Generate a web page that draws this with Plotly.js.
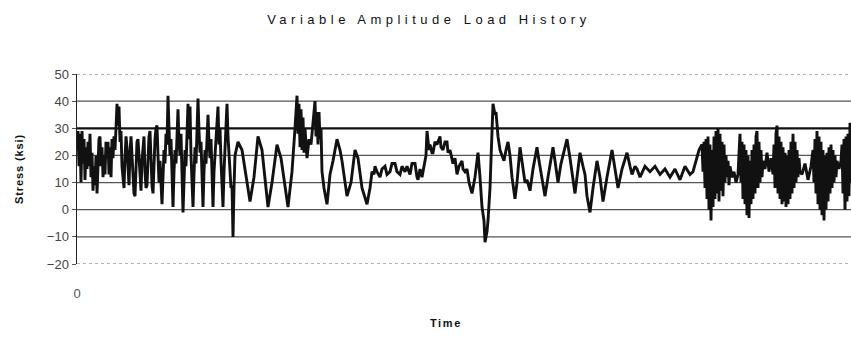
<!DOCTYPE html>
<html>
<head>
<meta charset="utf-8">
<script src="https://cdn.plot.ly/plotly-3.0.1.min.js"></script>
<style>
  html, body { margin: 0; padding: 0; background: #fff; }
  #chart { width: 851px; height: 337px; }
  .gtitle { letter-spacing: 4.5px; }
  .annotation-text { letter-spacing: 1.6px; }
  .ytitle { letter-spacing: 0.9px; }
</style>
</head>
<body>
<div id="chart"></div>
<script>
// Time (arbitrary units, left edge = 0) and stress (ksi)
const time = [
  0,1,2,3,4,5,6,7,8,9,10,11,12,13,14,15,16,17,18,19,20,21,22,23,24,25,26,27,28,29,
  30,31,32,33,34,35,36,37,38,39,40,41,42,43,44,45,46,47,48,49,50,51,52,53,54,55,56,57,58,59,
  60,61,62,63,64,65,66,67,68,69,70,71,72,73,74,75,76,77,78,79,80,81,82,83,84,85,86,87,88,89,
  90,91,92,93,94,95,96,97,98,99,100,101,102,103,104,105,106,107,108,109,110,111,112,113,114,115,116,117,118,119,
  120,121,122,123,124,125,126,127,128,129,130,131,132,133,134,135,136,137,138,139,140,141,142,143,144,145,146,147,148,149,
  150,151,152,153,154,155,156,157,158,
  161,165,173,177,181,185,191,195,200,204,211,215,218,220,221,222,223,224,225,226,227,228,230,232,234,236,238,239,240,241,242,243,244,245,247,
  250,252,253,256,260,263,265,270,274,278,281,285,290,293,295,297,298,300,303,305,308,310,313,315,318,320,323,325,328,330,333,335,338,340,341,343,345,347,349,
  350,352,353,355,356,358,360,363,364,366,368,370,371,373,376,378,380,382,385,386,388,390,392,395,398,401,403,405,407,408,410,411,413,414,416,418,419,421,423,425,427,429,431,433,435,438,440,443,445,448,
  450,453,456,460,462,465,468,471,476,478,481,484,490,493,495,498,500,503,506,508,510,513,516,520,523,526,530,535,538,541,545,550,553,555,558,560,563,568,573,578,583,588,593,598,603,608,613,616,619,622,625,
  626,627,628,629,630,631,632,633,634,635,636,637,638,639,640,641,642,643,644,645,646,647,648,649,650,651,652,653,655,657,659,661,
  663,664,665,666,667,668,669,670,671,672,673,674,675,676,677,678,679,680,681,682,683,684,685,686,688,690,692,694,696,
  697,698,699,700,701,702,703,704,705,706,707,708,709,710,711,712,713,714,715,716,717,718,719,720,721,722,723,725,728,731,734,
  736,737,738,739,740,741,742,743,744,745,746,747,748,749,750,751,752,753,754,755,756,757,758,759,760,762,764,
  765,766,767,768,769,770,771,772,773,774
];
const stress = [
  22,29,16,28,10,29,17,26,11,23,15,25,16,28,12,21,7,16,9,20,6,17,26,27,16,23,12,20,13,25,
  19,25,13,23,12,26,19,27,22,30,39,31,38,25,29,16,10,8,19,27,23,12,9,21,27,20,14,6,5,16,
  25,26,18,9,7,18,25,27,14,8,9,20,27,29,18,9,6,17,26,30,31,20,10,18,8,2,12,22,17,28,
  24,42,30,20,26,10,1,14,22,17,29,37,25,20,28,12,-1,10,22,16,30,39,26,38,20,10,1,13,23,17,
  28,41,29,21,25,11,1,14,22,17,27,35,25,19,26,10,1,14,21,28,34,38,24,30,18,8,1,14,23,30,
  39,27,20,11,8,9,-10,8,20,
  25,22,3,12,27,22,1,10,24,19,1,14,30,42,28,39,23,37,22,34,21,30,19,26,24,31,40,27,36,24,36,26,30,14,8,
  2,8,13,18,26,22,18,5,10,22,19,8,2,8,14,13,16,14,12,15,16,13,14,17,17,14,13,16,14,16,13,17,17,12,11,15,12,16,20,
  29,22,24,21,21,25,24,27,23,22,25,25,21,22,17,19,13,16,18,15,14,15,10,6,12,21,12,1,-4,-12,-8,-4,8,20,39,35,36,27,22,20,18,22,25,20,12,4,10,23,18,10,
  11,7,15,23,18,12,5,12,23,18,10,17,26,19,14,6,12,21,16,13,5,-1,8,18,12,3,12,22,15,8,15,21,16,13,16,15,12,16,14,16,13,15,12,15,11,16,13,14,18,22,24,
  14,25,8,26,4,27,0,24,-4,22,1,27,4,29,6,30,3,28,7,25,5,24,10,20,12,18,9,16,12,14,10,13,
  28,10,25,4,24,2,22,-2,20,-3,18,2,22,4,24,6,27,29,8,25,10,22,12,18,15,21,14,19,13,
  24,8,28,31,6,27,4,25,2,23,3,21,1,20,2,22,4,25,6,28,8,25,10,22,12,19,14,13,17,11,16,
  22,10,26,6,29,2,27,0,25,-2,22,-4,20,0,21,3,23,6,24,8,22,10,20,12,18,15,18,
  24,6,26,0,27,3,28,5,32,10
];
const yTicks = [-20, -10, 0, 10, 20, 30, 40, 50];
const xTickVals = [0];
const xTickText = ['0'];

const gridShapes = yTicks.map(v => {
  let line;
  if (v === 50 || v === -20) line = {color: '#9a9a9a', width: 1.5, dash: 'dot'};
  else if (v === 30) line = {color: '#111', width: 2.2};
  else line = {color: '#555', width: 1.2};
  return {type: 'line', xref: 'paper', x0: 0, x1: 1, yref: 'y', y0: v, y1: v, line: line, layer: 'below'};
});

const trace = {
  x: time, y: stress, type: 'scatter', mode: 'lines',
  line: {color: '#111', width: 2.9},
  hoverinfo: 'skip'
};

const layout = {
  width: 851, height: 337,
  margin: {l: 77, r: 0, t: 74, b: 73},
  paper_bgcolor: '#fff', plot_bgcolor: '#fff',
  font: {family: 'Liberation Sans, Arial, sans-serif', color: '#333'},
  title: {
    text: 'Variable Amplitude Load History',
    font: {size: 13, color: '#111'},
    xref: 'container', x: 0.504, xanchor: 'center',
    yref: 'container', y: 0.943, yanchor: 'middle'
  },
  xaxis: {
    range: [0, 774], showgrid: false, zeroline: false, showline: false,
    tickmode: 'array', tickvals: xTickVals, ticktext: xTickText,
    ticks: '', tickfont: {size: 13, color: '#555'}, ticklabelstandoff: 20
  },
  yaxis: {
    range: [-20, 50], tickmode: 'array', tickvals: yTicks,
    showgrid: false, zeroline: false,
    showline: true, linecolor: '#222', linewidth: 1.5,
    ticks: 'outside', ticklen: 4, tickcolor: '#555',
    tickfont: {size: 13, color: '#444'},
    title: {text: 'Stress (ksi)', font: {size: 11, color: '#111', weight: 'bold'}, standoff: 21}
  },
  annotations: [{
    text: 'Time', xref: 'paper', yref: 'paper', x: 0.477, y: -0.31,
    xanchor: 'center', yanchor: 'middle', showarrow: false,
    font: {size: 11, color: '#111', weight: 'bold'}
  }],
  shapes: gridShapes,
  showlegend: false
};

Plotly.newPlot('chart', [trace], layout, {staticPlot: true, displayModeBar: false});
</script>
</body>
</html>
